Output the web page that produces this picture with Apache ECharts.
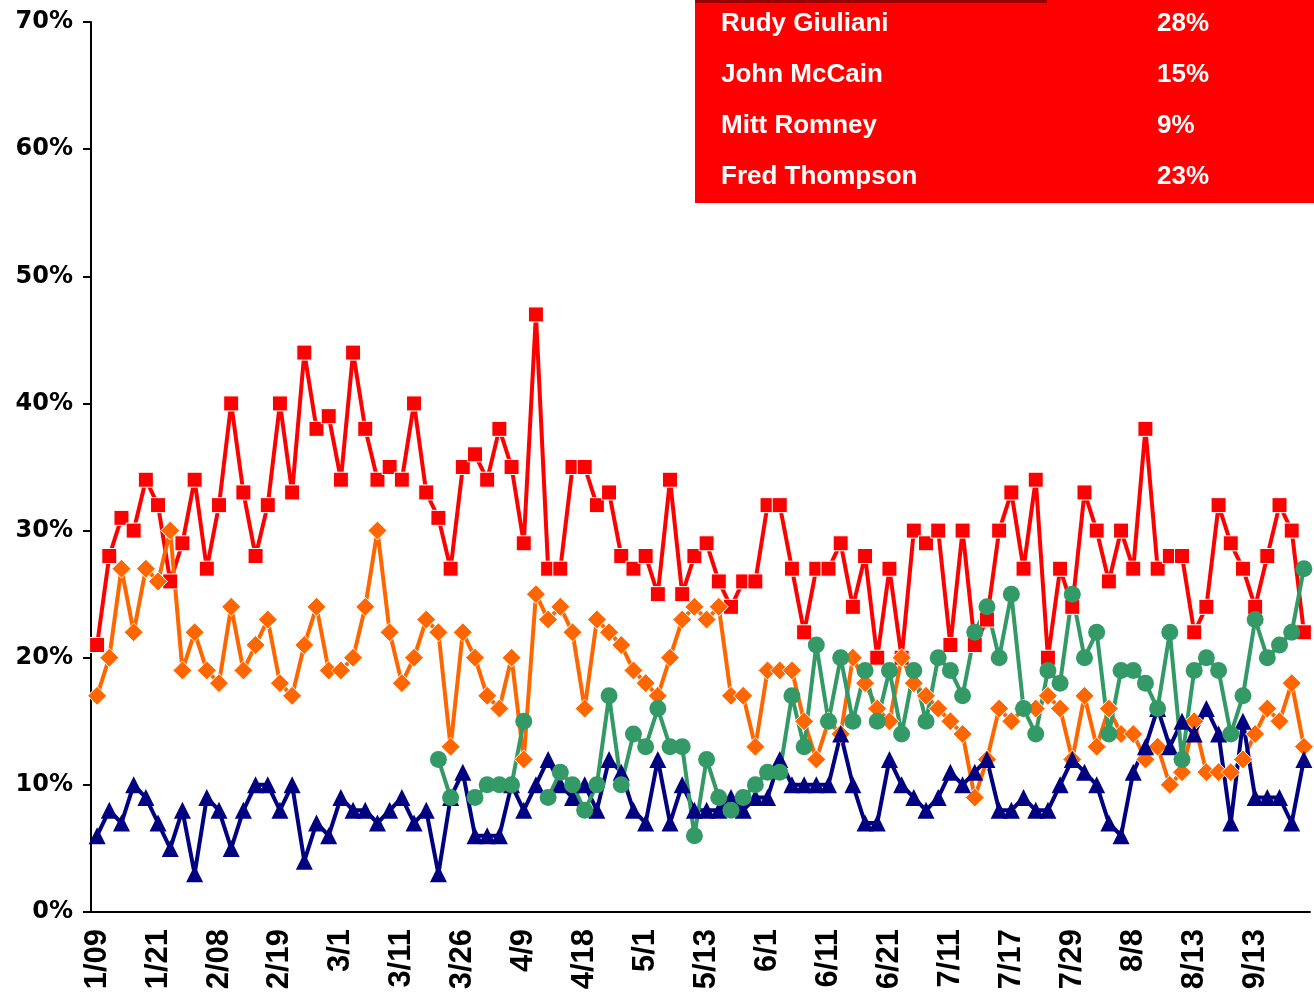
<!DOCTYPE html>
<html>
<head>
<meta charset="utf-8">
<title>Republican primary polls 2007</title>
<script src="https://cdn.jsdelivr.net/npm/echarts@6/dist/echarts.min.js"></script>
<style>
  html, body { margin: 0; padding: 0; background: #fff; }
  #chart { width: 1314px; height: 997px; }
</style>
</head>
<body>
<div id="chart"></div>
<script>
// one label for every fifth poll
const tickLabels = ['1/09', '1/21', '2/08', '2/19', '3/1', '3/11', '3/26', '4/9', '4/18', '5/1',
  '5/13', '6/1', '6/11', '6/21', '7/11', '7/17', '7/29', '8/8', '8/13', '9/13'];

const giuliani = [21, 28, 31, 30, 34, 32, 26, 29, 34, 27, 32, 40, 33, 28, 32, 40, 33, 44,
  38, 39, 34, 44, 38, 34, 35, 34, 40, 33, 31, 27, 35, 36, 34, 38,
  35, 29, 47, 27, 27, 35, 35, 32, 33, 28, 27, 28, 25, 34, 25, 28, 29,
  26, 24, 26, 26, 32, 32, 27, 22, 27, 27, 29, 24, 28, 20, 27, 20, 30,
  29, 30, 21, 30, 21, 23, 30, 33, 27, 34, 20, 27, 24, 33, 30, 26, 30,
  27, 38, 27, 28, 28, 22, 24, 32, 29, 27, 24, 28, 32, 30, 22];

const mccain = [17, 20, 27, 22, 27, 26, 30, 19, 22, 19, 18, 24, 19, 21, 23, 18, 17, 21,
  24, 19, 19, 20, 24, 30, 22, 18, 20, 23, 22, 13, 22, 20, 17, 16,
  20, 12, 25, 23, 24, 22, 16, 23, 22, 21, 19, 18, 17, 20, 23, 24, 23,
  24, 17, 17, 13, 19, 19, 19, 15, 12, 15, 14, 20, 18, 16, 15, 20, 18,
  17, 16, 15, 14, 9, 12, 16, 15, 16, 16, 17, 16, 12, 17, 13, 16, 14,
  14, 12, 13, 10, 11, 15, 11, 11, 11, 12, 14, 16, 15, 18, 13];

const romney = [6, 8, 7, 10, 9, 7, 5, 8, 3, 9, 8, 5, 8, 10, 10, 8, 10, 4,
  7, 6, 9, 8, 8, 7, 8, 9, 7, 8, 3, 9, 11, 6, 6, 6,
  10, 8, 10, 12, 10, 9, 10, 8, 12, 11, 8, 7, 12, 7, 10, 8, 8,
  8, 9, 8, 9, 9, 12, 10, 10, 10, 10, 14, 10, 7, 7, 12, 10, 9,
  8, 9, 11, 10, 11, 12, 8, 8, 9, 8, 8, 10, 12, 11, 10, 7, 6,
  11, 13, 16, 13, 15, 14, 16, 14, 7, 15, 9, 9, 9, 7, 12];

const thompson = [null, null, null, null, null, null, null, null, null, null,
  null, null, null, null, null, null, null, null, null, null,
  null, null, null, null, null, null, null, null, 12, 9, null, 9, 10, 10,
  10, 15, null, 9, 11, 10, 8, 10, 17, 10, 14, 13, 16, 13, 13, 6, 12,
  9, 8, 9, 10, 11, 11, 17, 13, 21, 15, 20, 15, 19, 15, 19, 14, 19,
  15, 20, 19, 17, 22, 24, 20, 25, 16, 14, 19, 18, 25, 20, 22, 14, 19,
  19, 18, 16, 22, 12, 19, 20, 19, 14, 17, 23, 20, 21, 22, 27];

const candidates = ['Rudy Giuliani', 'John McCain', 'Mitt Romney', 'Fred Thompson'];
const latestShares = ['28%', '15%', '9%', '23%'];

const polls = giuliani.map((v, i) => i);

const chart = echarts.init(document.getElementById('chart'));

// red summary box in the top right corner
const box = [
  { type: 'rect', x: 695, y: 0, shape: { width: 619, height: 203 }, style: { fill: '#ff0000' } },
  { type: 'rect', x: 695, y: 0, shape: { width: 352, height: 3 }, style: { fill: '#990000' } }
];
candidates.forEach((name, i) => {
  box.push({
    type: 'text', x: 721, y: 24 + 51 * i,
    style: { text: name, fill: '#fff', font: 'bold 26px "Liberation Sans"', verticalAlign: 'middle' }
  });
  box.push({
    type: 'text', x: 1157, y: 24 + 51 * i,
    style: { text: latestShares[i], fill: '#fff', font: 'bold 26px "Liberation Sans"', verticalAlign: 'middle' }
  });
});

function lineSeries(name, data, color, symbol, size, border) {
  return {
    name: name,
    type: 'line',
    data: data,
    symbol: symbol,
    symbolSize: size,
    showAllSymbol: true,
    connectNulls: false,
    lineStyle: { color: color, width: 4 },
    itemStyle: { color: color, borderColor: '#fff', borderWidth: border, opacity: 1 },
    emphasis: { disabled: true }
  };
}

chart.setOption({
  animation: false,
  backgroundColor: '#fff',
  grid: { left: 91, right: 4, top: 22, bottom: 85 },
  xAxis: {
    type: 'category',
    data: polls,
    boundaryGap: true,
    axisLine: { lineStyle: { color: '#000', width: 2 } },
    axisTick: { interval: 0, length: 7, lineStyle: { color: '#000', width: 1.5 } },
    axisLabel: {
      interval: 4,
      rotate: 90,
      margin: 17,
      color: '#000',
      fontFamily: 'Liberation Sans',
      fontWeight: 'bold',
      fontSize: 31,
      formatter: (v, idx) => tickLabels[idx / 5]
    }
  },
  yAxis: {
    type: 'value',
    min: 0,
    max: 70,
    interval: 10,
    splitLine: { show: false },
    axisLine: { show: true, lineStyle: { color: '#000', width: 2 } },
    axisTick: { show: true, length: 8, lineStyle: { color: '#000', width: 2 } },
    axisLabel: {
      margin: 18,
      color: '#000',
      fontFamily: 'DejaVu Sans',
      fontWeight: 'bold',
      fontSize: 24,
      formatter: '{value}%'
    }
  },
  graphic: box,
  series: [
    lineSeries(candidates[0], giuliani, '#ff0000', 'rect', 15, 1),
    lineSeries(candidates[1], mccain, '#ff6600', 'diamond', 19, 1),
    lineSeries(candidates[2], romney, '#000080', 'triangle', 17, 0),
    lineSeries(candidates[3], thompson, '#339966', 'circle', 17, 0)
  ]
});
</script>
</body>
</html>
